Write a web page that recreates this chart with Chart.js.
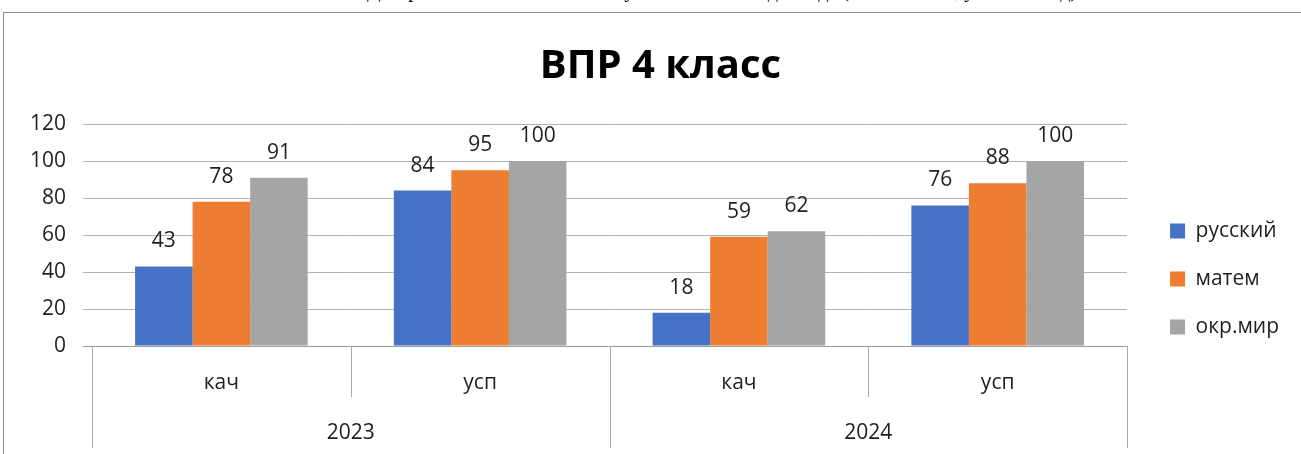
<!DOCTYPE html>
<html>
<head>
<meta charset="utf-8">
<script src="https://cdn.jsdelivr.net/npm/chart.js@4"></script>
<style>
html, body { margin: 0; padding: 0; background: #fff; }
#wrap { position: relative; width: 1301px; height: 454px; overflow: hidden; }
#frame { position: absolute; left: 3px; top: 12px; width: 1320px; height: 470px; border: 1px solid #8c8c8c; box-sizing: border-box; }
#cap { position: absolute; left: 322px; top: -20px; width: 800px; text-align: center; font: 20px/20px "Liberation Serif"; white-space: nowrap; color: #000; }
canvas { position: absolute; left: 0; top: 0; }
</style>
</head>
<body>
<div id="wrap">
  <div id="cap">Диаграмма качества знаний и успеваемости за два года (ВПР 4 класс, учебный год)</div>
  <div id="frame"></div>
  <canvas id="vprChart" width="1301" height="454"></canvas>
</div>
<script>
// data
const categories = ['кач', 'усп', 'кач', 'усп'];
const years = ['2023', '2024'];
const seriesNames = ['русский', 'матем', 'окр.мир'];
const russian = [43, 84, 18, 76];
const math = [78, 95, 59, 88];
const world = [91, 100, 62, 100];
const yMin = 0;
const yMax = 120;
const yStep = 20;

const textColor = '#1f1f1f';
const lineColor = '#a6a6a6';
Chart.defaults.font.family = '"Open Sans", sans-serif';

// numbers above bars
const barValues = {
    id: 'barValues',
    afterDatasetsDraw(chart) {
        const ctx = chart.ctx;
        ctx.save();
        ctx.font = '21px "Open Sans"';
        ctx.fillStyle = textColor;
        ctx.textAlign = 'center';
        ctx.textBaseline = 'alphabetic';
        chart.data.datasets.forEach((ds, i) => {
            chart.getDatasetMeta(i).data.forEach((bar, j) => {
                ctx.fillText(ds.data[j], bar.x, bar.y - 19);
            });
        });
        ctx.restore();
    }
};

// second row of the category axis (years) and divider lines
const multiAxis = {
    id: 'multiAxis',
    afterDraw(chart) {
        const x = chart.scales.x;
        const ctx = chart.ctx;
        const n = categories.length;
        const edge = i => {
            if (i === 0) return x.left;
            if (i === n) return x.right;
            return (x.getPixelForValue(i - 1) + x.getPixelForValue(i)) / 2;
        };
        ctx.save();
        ctx.strokeStyle = lineColor;
        ctx.lineWidth = 1;
        for (let i = 0; i <= n; i++) {
            const px = Math.round(edge(i)) + 0.5;
            const bottom = i % 2 === 0 ? x.bottom - 6 : x.top + 51;
            ctx.beginPath();
            ctx.moveTo(px, x.top);
            ctx.lineTo(px, bottom);
            ctx.stroke();
        }
        ctx.font = '21px "Open Sans"';
        ctx.fillStyle = textColor;
        ctx.textAlign = 'center';
        ctx.textBaseline = 'middle';
        years.forEach((yr, k) => {
            const cx = (x.getPixelForValue(2 * k) + x.getPixelForValue(2 * k + 1)) / 2;
            ctx.fillText(yr, cx, x.top + 87);
        });
        ctx.restore();
    }
};

// move legend and title to where excel put them
const boxNudge = {
    id: 'boxNudge',
    afterLayout(chart, args, opts) {
        const lg = chart.legend;
        lg.left += opts.legendDx; lg.right += opts.legendDx;
        lg.top += opts.legendDy; lg.bottom += opts.legendDy;
        const tb = chart.titleBlock;
        tb.left += opts.titleDx; tb.right += opts.titleDx;
    }
};

new Chart(document.getElementById('vprChart'), {
    type: 'bar',
    data: {
        labels: categories,
        datasets: [
            { label: seriesNames[0], data: russian, backgroundColor: '#4472C4' },
            { label: seriesNames[1], data: math, backgroundColor: '#ED7D31' },
            { label: seriesNames[2], data: world, backgroundColor: '#A5A5A5' }
        ]
    },
    options: {
        responsive: false,
        animation: false,
        layout: { padding: { left: 0, right: 28, top: 0, bottom: 0 } },
        datasets: { bar: { categoryPercentage: 0.667, barPercentage: 1 } },
        scales: {
            x: {
                offset: true,
                grid: { display: false, drawTicks: false },
                border: { display: false },
                ticks: { color: textColor, font: { size: 21 }, padding: 24 },
                afterFit(s) { s.height = 108; }
            },
            y: {
                min: yMin,
                max: yMax,
                ticks: { stepSize: yStep, color: textColor, font: { size: 21 }, padding: 17 },
                grid: {
                    color: c => c.tick && c.tick.value === 0 ? '#999999' : '#b3b3b3',
                    tickLength: 9
                },
                border: { display: false },
                afterFit(s) { s.width = 92; }
            }
        },
        plugins: {
            title: {
                display: true,
                text: 'ВПР 4 класс',
                color: '#000',
                font: { size: 40, weight: 'bold' },
                padding: { top: 43, bottom: 33 }
            },
            legend: {
                position: 'right',
                labels: {
                    boxWidth: 15,
                    boxHeight: 15,
                    padding: 27,
                    color: textColor,
                    font: { size: 21 }
                }
            },
            tooltip: { enabled: false },
            boxNudge: { legendDx: 16, legendDy: 52, titleDx: 24 }
        }
    },
    plugins: [barValues, multiAxis, boxNudge]
});
</script>
</body>
</html>
